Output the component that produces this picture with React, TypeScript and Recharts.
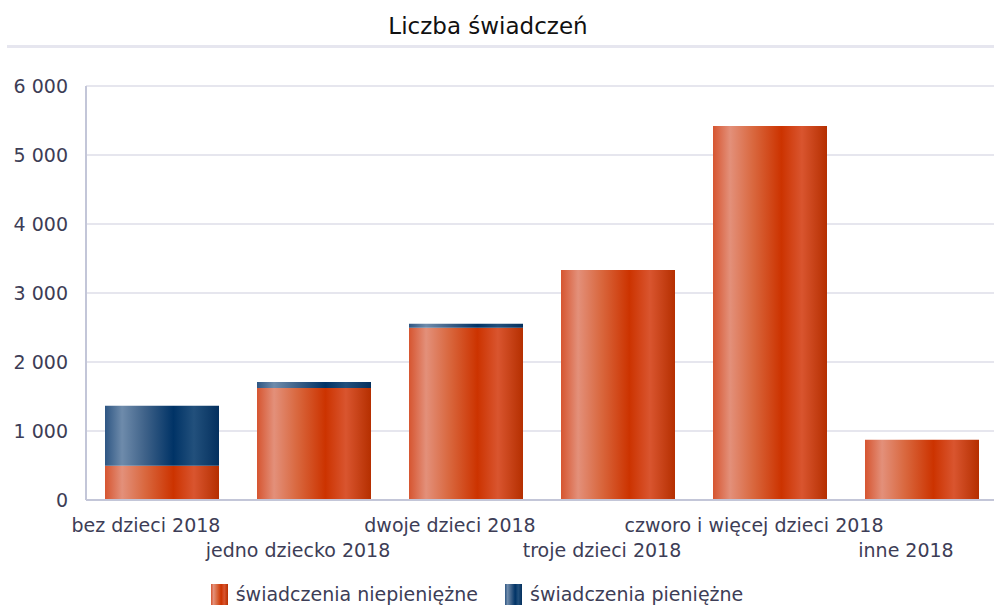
import React from 'react';
import { BarChart, Bar, XAxis, YAxis, CartesianGrid, Legend } from 'recharts';

const categories = [
  'bez dzieci 2018',
  'jedno dziecko 2018',
  'dwoje dzieci 2018',
  'troje dzieci 2018',
  'czworo i więcej dzieci 2018',
  'inne 2018',
];
const niepieniezne = [495, 1625, 2495, 3335, 5420, 875];
const pieniezne = [870, 85, 58, 0, 0, 0];
const yTicks = [0, 1000, 2000, 3000, 4000, 5000, 6000];
const seriesNames = ['świadczenia niepieniężne', 'świadczenia pieniężne'];

const data = categories.map((c, i) => ({ name: c, a: niepieniezne[i], b: pieniezne[i] }));

const FONT = '"DejaVu Sans", Verdana, sans-serif';
const TXT = '#3d3d56';

const fmt = (v: number) => String(v).replace(/\B(?=(\d{3})+(?!\d))/g, ' ');

const OrangeStops = () => (
  <>
    <stop offset="0" stopColor="#d65530" />
    <stop offset="0.15" stopColor="#e3907a" />
    <stop offset="0.35" stopColor="#d9683f" />
    <stop offset="0.6" stopColor="#cc3300" />
    <stop offset="0.78" stopColor="#d9552f" />
    <stop offset="1" stopColor="#b52f00" />
  </>
);
const BlueStops = () => (
  <>
    <stop offset="0" stopColor="#2e5683" />
    <stop offset="0.15" stopColor="#6e8bab" />
    <stop offset="0.35" stopColor="#3f6289" />
    <stop offset="0.6" stopColor="#003366" />
    <stop offset="0.78" stopColor="#22507c" />
    <stop offset="1" stopColor="#04305e" />
  </>
);

const XTick = (props: any) => {
  const { x, y, payload, index } = props;
  return (
    <text
      x={x - 16}
      y={y + (index % 2 === 0 ? 32 : 57)}
      textAnchor="middle"
      fontFamily={FONT}
      fontSize={19}
      fill={TXT}
    >
      {payload.value}
    </text>
  );
};

const LegendContent = () => (
  <div
    style={{
      height: 47,
      display: 'flex',
      alignItems: 'flex-end',
      justifyContent: 'center',
      paddingRight: 44,
      boxSizing: 'border-box',
      fontFamily: FONT,
      fontSize: 19,
      color: TXT,
    }}
  >
    {seriesNames.map((n, i) => (
      <div key={n} style={{ display: 'flex', alignItems: 'center', marginLeft: i ? 27 : 0, marginBottom: 2 }}>
        <svg width={17} height={21} style={{ marginRight: 8 }}>
          <defs>
            <linearGradient id={'lg' + i} x1="0" y1="0" x2="1" y2="0">
              {i === 0 ? <OrangeStops /> : <BlueStops />}
            </linearGradient>
          </defs>
          <rect x={0} y={0} width={17} height={21} fill={`url(#lg${i})`} />
        </svg>
        <span>{n}</span>
      </div>
    ))}
  </div>
);

export default function App() {
  return (
    <div style={{ position: 'absolute', left: 0, top: 0, width: 994, height: 607, overflow: 'hidden', background: '#fff' }}>
      <div
        style={{
          position: 'absolute',
          left: 0,
          top: 15,
          width: 976,
          textAlign: 'center',
          fontFamily: FONT,
          fontSize: 23,
          lineHeight: '23px',
          color: '#111',
        }}
      >
        Liczba świadczeń
      </div>
      <div style={{ position: 'absolute', left: 7, top: 45, width: 990, height: 3, background: '#e6e6ef' }} />
      <div style={{ position: 'absolute', left: 0, top: 0 }}>
        <BarChart
          width={1000}
          height={607}
          data={data}
          margin={{ top: 86, right: 2, bottom: 0, left: 0 }}
          barCategoryGap="12.5%"
        >
          <defs>
            <linearGradient id="gOrange" x1="0" y1="0" x2="1" y2="0">
              <OrangeStops />
            </linearGradient>
            <linearGradient id="gBlue" x1="0" y1="0" x2="1" y2="0">
              <BlueStops />
            </linearGradient>
          </defs>
          <CartesianGrid vertical={false} stroke="#e6e6ee" strokeWidth={2} />
          <XAxis
            dataKey="name"
            height={60}
            tickLine={false}
            tickSize={0}
            tickMargin={0}
            interval={0}
            axisLine={{ stroke: '#c3c6d8', strokeWidth: 2 }}
            tick={<XTick />}
          />
          <YAxis
            width={86}
            domain={[0, 6000]}
            ticks={yTicks}
            tickFormatter={fmt}
            tickLine={false}
            tickSize={0}
            tickMargin={18}
            interval={0}
            axisLine={{ stroke: '#c3c6d8', strokeWidth: 2 }}
            tick={{ fontFamily: FONT, fontSize: 19, fill: TXT }}
          />
          <Legend verticalAlign="bottom" content={<LegendContent />} />
          <Bar dataKey="a" name={seriesNames[0]} stackId="s" fill="url(#gOrange)" isAnimationActive={false} />
          <Bar dataKey="b" name={seriesNames[1]} stackId="s" fill="url(#gBlue)" isAnimationActive={false} />
        </BarChart>
      </div>
    </div>
  );
}
